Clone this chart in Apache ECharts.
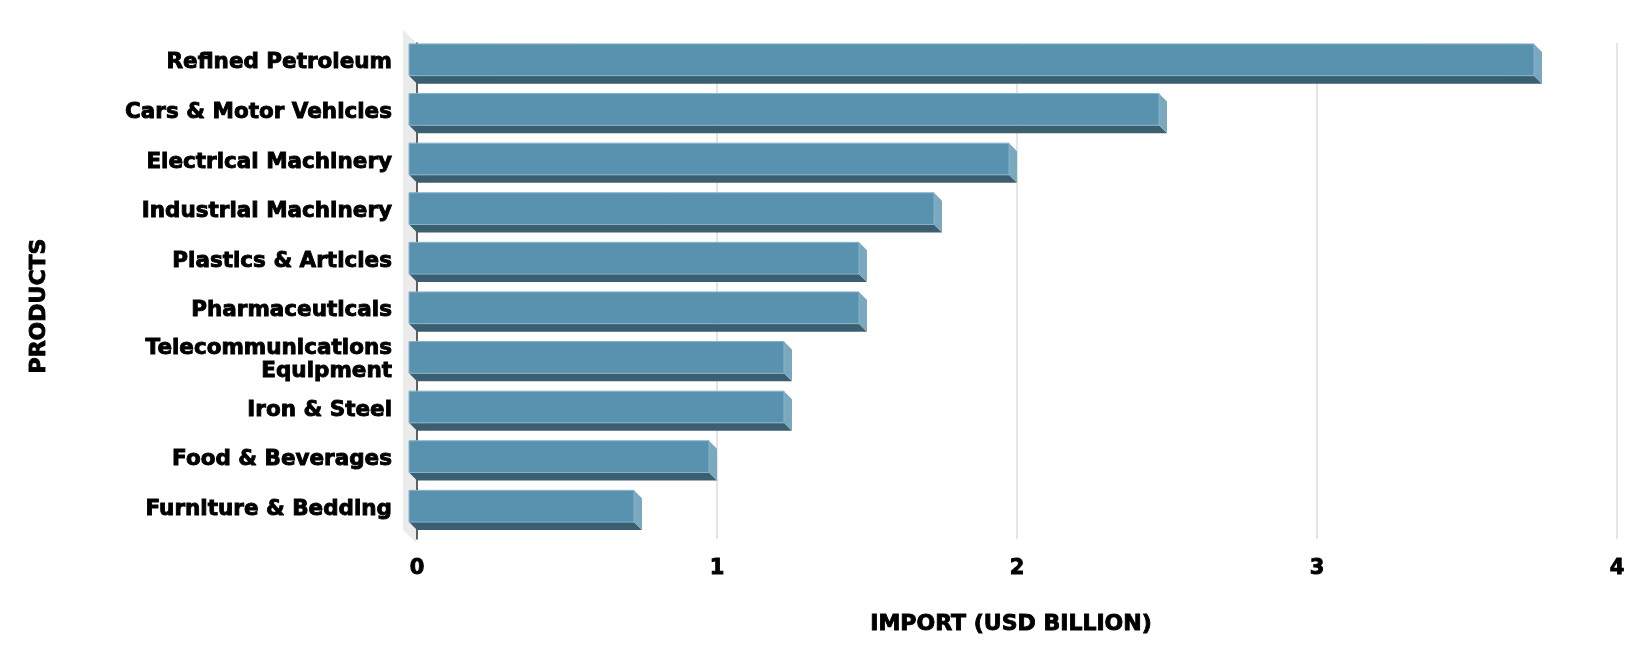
<!DOCTYPE html>
<html>
<head>
<meta charset="utf-8">
<script src="https://cdn.jsdelivr.net/npm/echarts@6/dist/echarts.min.js"></script>
<style>
html,body{margin:0;padding:0;background:#fff;}
#chart{width:1648px;height:660px;}
</style>
</head>
<body>
<div id="chart"></div>
<script>
var categories = ["Refined Petroleum","Cars & Motor Vehicles","Electrical Machinery","Industrial Machinery","Plastics & Articles","Pharmaceuticals","Telecommunications\nEquipment","Iron & Steel","Food & Beverages","Furniture & Bedding"];
var values = [3.75, 2.5, 2.0, 1.75, 1.5, 1.5, 1.25, 1.25, 1.0, 0.75];
var xTicks = [0, 1, 2, 3, 4];

var FONT = "DejaVu Sans";
var D = 8;
var heavy = { fontFamily: FONT, fontWeight: 'bold', color: '#000', textBorderColor: '#000', textBorderWidth: 0.9 };
function txt(extra) { return Object.assign({}, heavy, extra); }

function barItem(params, api) {
  var val = api.value(0), cat = api.value(1);
  var p0 = api.coord([0, cat]);
  var p1 = api.coord([val, cat]);
  var band = api.size([0, 1])[1];
  var h = band * 0.64;
  var x0 = p0[0] - D, x1 = p1[0] - D;
  var yc = p0[1] - D, yt = yc - h / 2, yb = yc + h / 2;
  return {
    type: 'group',
    children: [
      { type: 'polygon', shape: { points: [[x0, yb], [x1, yb], [x1 + D, yb + D], [x0 + D, yb + D]] },
        style: { fill: '#3b5f70' } },
      { type: 'polygon', shape: { points: [[x1, yt], [x1 + D, yt + D], [x1 + D, yb + D], [x1, yb]] },
        style: { fill: '#7aa9bf' } },
      { type: 'rect', shape: { x: x0, y: yt, width: x1 - x0, height: h },
        style: { fill: '#5892ae', stroke: '#86b4ca', lineWidth: 1 } }
    ]
  };
}

function wallItem(params, api) {
  var cs = params.coordSys;
  var x = cs.x, y = cs.y, hh = cs.height;
  return {
    type: 'polygon',
    shape: { points: [[x - 0.5, y], [x - 0.5, y + hh + 4], [x - 14, y + hh - 9], [x - 14, y - 13]] },
    style: { fill: '#ebebeb' }
  };
}

var chart = echarts.init(document.getElementById('chart'), null, { renderer: 'canvas' });
chart.setOption({
  animation: false,
  backgroundColor: '#ffffff',
  grid: [
    { left: 417, top: 43, width: 1200, height: 496 },
    { left: 417, top: 38, width: 1200, height: 496 }
  ],
  xAxis: [
    {
      gridIndex: 0, type: 'value', min: xTicks[0], max: xTicks[xTicks.length - 1], interval: 1,
      name: 'IMPORT (USD BILLION)', nameLocation: 'middle', nameGap: 74,
      nameTextStyle: txt({ fontSize: 22, padding: [0, 12, 0, 0] }),
      axisLine: { show: false }, axisTick: { show: false },
      axisLabel: txt({ margin: 19, fontSize: 21 }),
      splitLine: { show: true, lineStyle: { color: '#dcdcdc', width: 1.5 } }
    },
    {
      gridIndex: 1, type: 'value', min: 0, max: 4, show: false
    }
  ],
  yAxis: [
    {
      gridIndex: 0, type: 'category', data: categories, inverse: true,
      name: 'PRODUCTS', nameLocation: 'middle', nameGap: 367, nameRotate: 90,
      nameTextStyle: txt({ fontSize: 22, padding: [0, 30, 0, 0] }),
      axisLine: { show: true, lineStyle: { color: '#333', width: 1.5 } },
      axisTick: { show: false },
      axisLabel: { show: false },
      splitLine: { show: false }
    },
    {
      gridIndex: 1, type: 'category', data: categories, inverse: true,
      axisLine: { show: false }, axisTick: { show: false }, splitLine: { show: false },
      axisLabel: txt({ margin: 25, fontSize: 21.5, lineHeight: 23, align: 'right', verticalAlign: 'middle' })
    }
  ],
  series: [
    { type: 'custom', z: -1, silent: true, xAxisIndex: 0, yAxisIndex: 0, renderItem: wallItem, data: [[0, 0]] },
    { type: 'custom', xAxisIndex: 0, yAxisIndex: 0, renderItem: barItem,
      encode: { x: 0, y: 1 },
      data: values.map(function (v, i) { return [v, i]; }) }
  ]
});
</script>
</body>
</html>
